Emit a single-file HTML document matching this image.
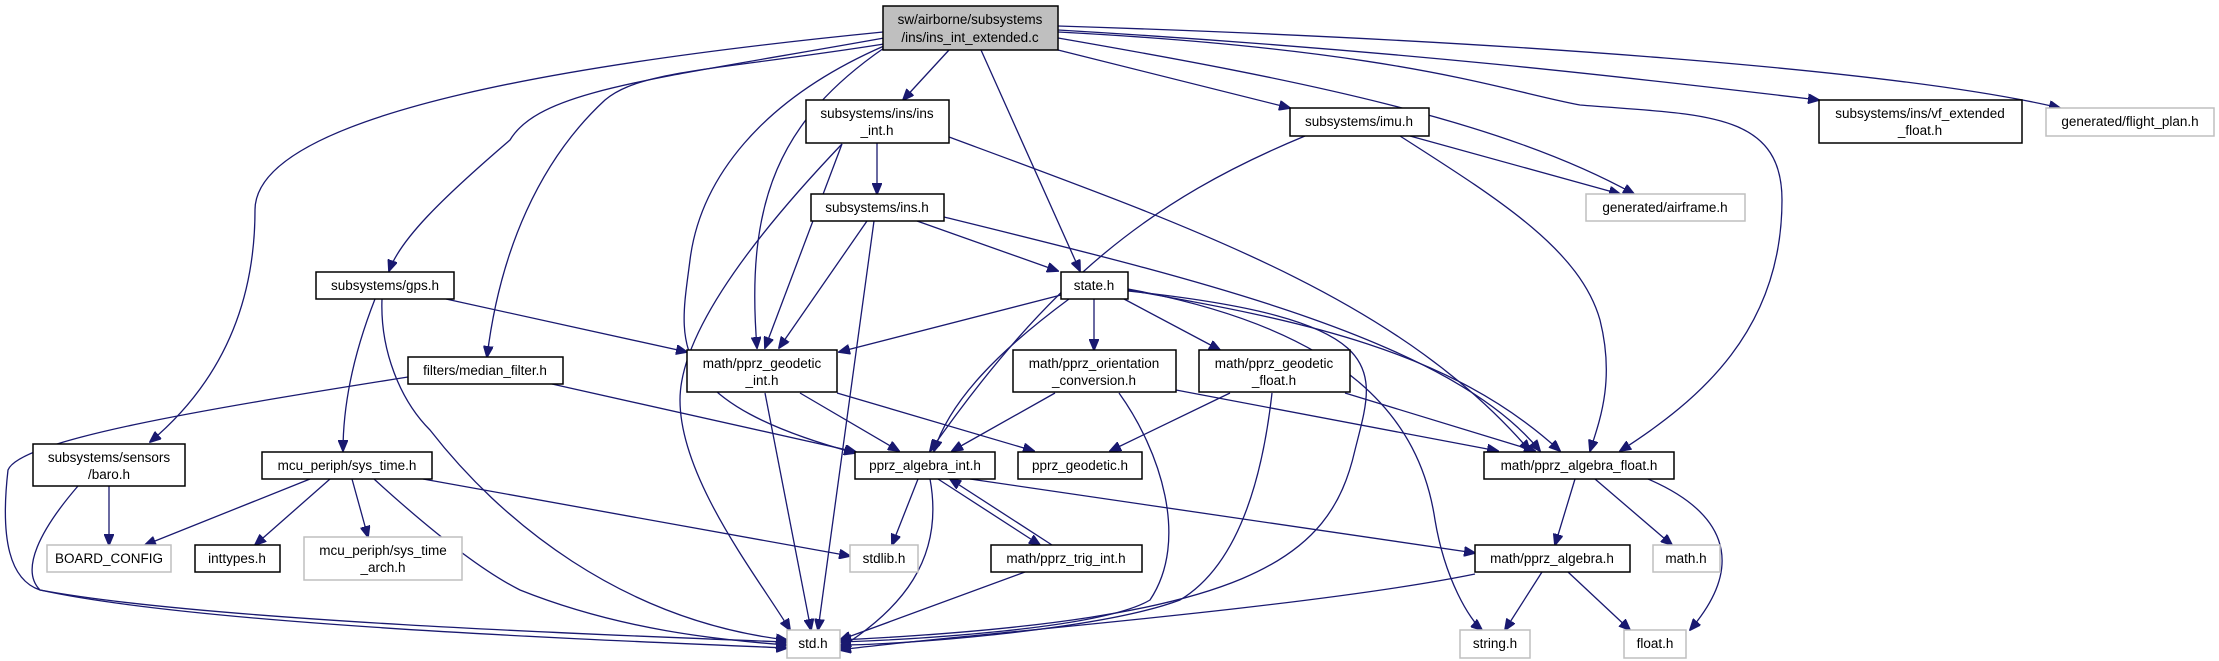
<!DOCTYPE html>
<html><head><meta charset="utf-8"><style>
html,body{margin:0;padding:0;background:#fff;}
svg{display:block;}
text{font-family:"Liberation Sans",sans-serif;font-size:13.5px;fill:#000;text-anchor:middle;}
.n rect{fill:#fff;stroke:#000;stroke-width:1.5;}
.g rect{fill:#fff;stroke:#bfbfbf;stroke-width:1.5;}
.e path{fill:none;stroke:#191970;stroke-width:1.3;}
</style></head><body>
<svg width="2219" height="661" viewBox="0 0 2219 661" xmlns="http://www.w3.org/2000/svg">
<defs><marker id="a" markerWidth="12" markerHeight="10" refX="11" refY="5" orient="auto" markerUnits="userSpaceOnUse"><path d="M0,0 L12,5 L0,10 z" fill="#191970" stroke="#191970"/></marker></defs>
<g class="e" marker-end="url(#a)">
<path d="M883,32 C600,60 255,110 255,210 C255,330 200,400 150,442"/>
<path d="M884,38 C650,80 540,90 510,140 C440,200 400,240 389,271"/>
<path d="M884,44 C720,70 640,70 605,100 C540,160 500,250 487,357"/>
<path d="M884,46 C760,100 700,180 690,260 C680,340 660,400 855,453"/>
<path d="M884,48 C780,120 745,200 757,348"/>
<path d="M949,50 L903,100"/>
<path d="M981,50 L1080,271"/>
<path d="M1058,50 L1290,108"/>
<path d="M1058,38 C1300,80 1500,120 1634,194"/>
<path d="M1058,32 C1400,50 1500,90 1580,105 C1700,115 1782,110 1782,200 C1782,330 1700,400 1620,451"/>
<path d="M1058,30 C1400,50 1650,80 1819,100"/>
<path d="M1058,26 C1500,40 1900,70 2060,108"/>
<path d="M877,143 L877,194"/>
<path d="M842,144 L765,348"/>
<path d="M842,144 C760,230 680,330 680,400 C680,480 760,580 790,630"/>
<path d="M949,137 C1200,230 1400,300 1530,451"/>
<path d="M917,221 L1058,271"/>
<path d="M867,221 L779,348"/>
<path d="M874,221 L818,630"/>
<path d="M944,217 C1200,280 1450,340 1540,451"/>
<path d="M446,299 L687,352"/>
<path d="M375,299 C355,350 343,400 343,451"/>
<path d="M382,299 C380,350 400,400 430,430 C500,520 620,620 787,640"/>
<path d="M408,377 C200,410 20,440 8,470 C0,540 10,580 40,590 C200,620 600,635 787,642"/>
<path d="M552,384 L856,452"/>
<path d="M800,393 L899,451"/>
<path d="M837,393 L1034,451"/>
<path d="M765,393 L811,630"/>
<path d="M1061,295 L839,352"/>
<path d="M1069,299 C1000,350 950,400 934,451"/>
<path d="M1094,299 L1094,350"/>
<path d="M1124,299 L1220,350"/>
<path d="M1128,290 C1300,320 1450,350 1560,451"/>
<path d="M1128,289 C1350,330 1420,420 1435,520 C1445,580 1470,620 1482,630"/>
<path d="M1128,291 C1400,320 1375,370 1355,450 C1330,560 1250,620 840,640"/>
<path d="M1055,393 L952,451"/>
<path d="M1176,390 L1498,451"/>
<path d="M1119,393 C1160,450 1190,540 1150,600 C1100,630 900,640 840,642"/>
<path d="M1230,393 L1110,451"/>
<path d="M1345,393 L1535,451"/>
<path d="M1272,393 C1260,500 1230,570 1180,600 C1100,630 900,645 840,645"/>
<path d="M1410,136 L1620,194"/>
<path d="M1400,136 C1500,200 1580,250 1600,320 C1615,380 1600,420 1590,451"/>
<path d="M1305,136 C1150,200 1050,280 930,451"/>
<path d="M109,486 L109,545"/>
<path d="M78,486 C40,530 20,570 40,590 C200,625 600,640 787,648"/>
<path d="M310,479 L145,545"/>
<path d="M330,479 L255,545"/>
<path d="M352,479 L368,537"/>
<path d="M374,479 C430,530 480,570 520,590 C620,630 720,640 787,645"/>
<path d="M423,479 L850,556"/>
<path d="M918,479 L892,545"/>
<path d="M930,479 C945,560 900,610 840,648"/>
<path d="M938,479 L1040,545"/>
<path d="M970,479 L1475,553"/>
<path d="M1052,545 L950,479"/>
<path d="M1025,572 L840,640"/>
<path d="M1575,479 L1555,545"/>
<path d="M1595,479 L1672,545"/>
<path d="M1648,479 C1720,510 1750,560 1690,630"/>
<path d="M1542,572 L1505,630"/>
<path d="M1568,572 L1630,630"/>
<path d="M1475,574 C1300,610 900,640 840,650"/>
</g>
<g class="n"><rect x="883" y="6" width="175" height="44" style="fill:#bfbfbf"/><text x="970" y="24">sw/airborne/subsystems</text><text x="970" y="42">/ins/ins_int_extended.c</text></g>
<g class="n"><rect x="806" y="100" width="143" height="43"/><text x="877" y="118">subsystems/ins/ins</text><text x="877" y="135">_int.h</text></g>
<g class="n"><rect x="811" y="194" width="133" height="27"/><text x="877" y="212">subsystems/ins.h</text></g>
<g class="n"><rect x="316" y="272" width="138" height="27"/><text x="385" y="290">subsystems/gps.h</text></g>
<g class="n"><rect x="408" y="357" width="155" height="27"/><text x="485" y="375">filters/median_filter.h</text></g>
<g class="n"><rect x="687" y="350" width="150" height="42"/><text x="762" y="368">math/pprz_geodetic</text><text x="762" y="385">_int.h</text></g>
<g class="n"><rect x="1061" y="272" width="67" height="27"/><text x="1094" y="290">state.h</text></g>
<g class="n"><rect x="1013" y="350" width="163" height="42"/><text x="1094" y="368">math/pprz_orientation</text><text x="1094" y="385">_conversion.h</text></g>
<g class="n"><rect x="1199" y="350" width="151" height="42"/><text x="1274" y="368">math/pprz_geodetic</text><text x="1274" y="385">_float.h</text></g>
<g class="n"><rect x="33" y="444" width="152" height="42"/><text x="109" y="462">subsystems/sensors</text><text x="109" y="479">/baro.h</text></g>
<g class="n"><rect x="262" y="452" width="170" height="27"/><text x="347" y="470">mcu_periph/sys_time.h</text></g>
<g class="n"><rect x="855" y="452" width="140" height="27"/><text x="925" y="470">pprz_algebra_int.h</text></g>
<g class="n"><rect x="1018" y="452" width="124" height="27"/><text x="1080" y="470">pprz_geodetic.h</text></g>
<g class="n"><rect x="1484" y="452" width="190" height="27"/><text x="1579" y="470">math/pprz_algebra_float.h</text></g>
<g class="n"><rect x="1290" y="108" width="139" height="28"/><text x="1359" y="126">subsystems/imu.h</text></g>
<g class="n"><rect x="1819" y="100" width="203" height="43"/><text x="1920" y="118">subsystems/ins/vf_extended</text><text x="1920" y="135">_float.h</text></g>
<g class="g"><rect x="2046" y="108" width="168" height="28"/><text x="2130" y="126">generated/flight_plan.h</text></g>
<g class="g"><rect x="1586" y="194" width="159" height="27"/><text x="1665" y="212">generated/airframe.h</text></g>
<g class="g"><rect x="47" y="545" width="124" height="27"/><text x="109" y="563">BOARD_CONFIG</text></g>
<g class="n"><rect x="195" y="545" width="85" height="27"/><text x="237" y="563">inttypes.h</text></g>
<g class="g"><rect x="304" y="537" width="158" height="43"/><text x="383" y="555">mcu_periph/sys_time</text><text x="383" y="572">_arch.h</text></g>
<g class="g"><rect x="850" y="545" width="68" height="27"/><text x="884" y="563">stdlib.h</text></g>
<g class="n"><rect x="991" y="545" width="151" height="27"/><text x="1066" y="563">math/pprz_trig_int.h</text></g>
<g class="n"><rect x="1475" y="545" width="155" height="27"/><text x="1552" y="563">math/pprz_algebra.h</text></g>
<g class="g"><rect x="1653" y="545" width="67" height="27"/><text x="1686" y="563">math.h</text></g>
<g class="g"><rect x="787" y="630" width="53" height="28"/><text x="813" y="648">std.h</text></g>
<g class="g"><rect x="1460" y="630" width="70" height="28"/><text x="1495" y="648">string.h</text></g>
<g class="g"><rect x="1624" y="630" width="62" height="28"/><text x="1655" y="648">float.h</text></g>
</svg>
</body></html>
